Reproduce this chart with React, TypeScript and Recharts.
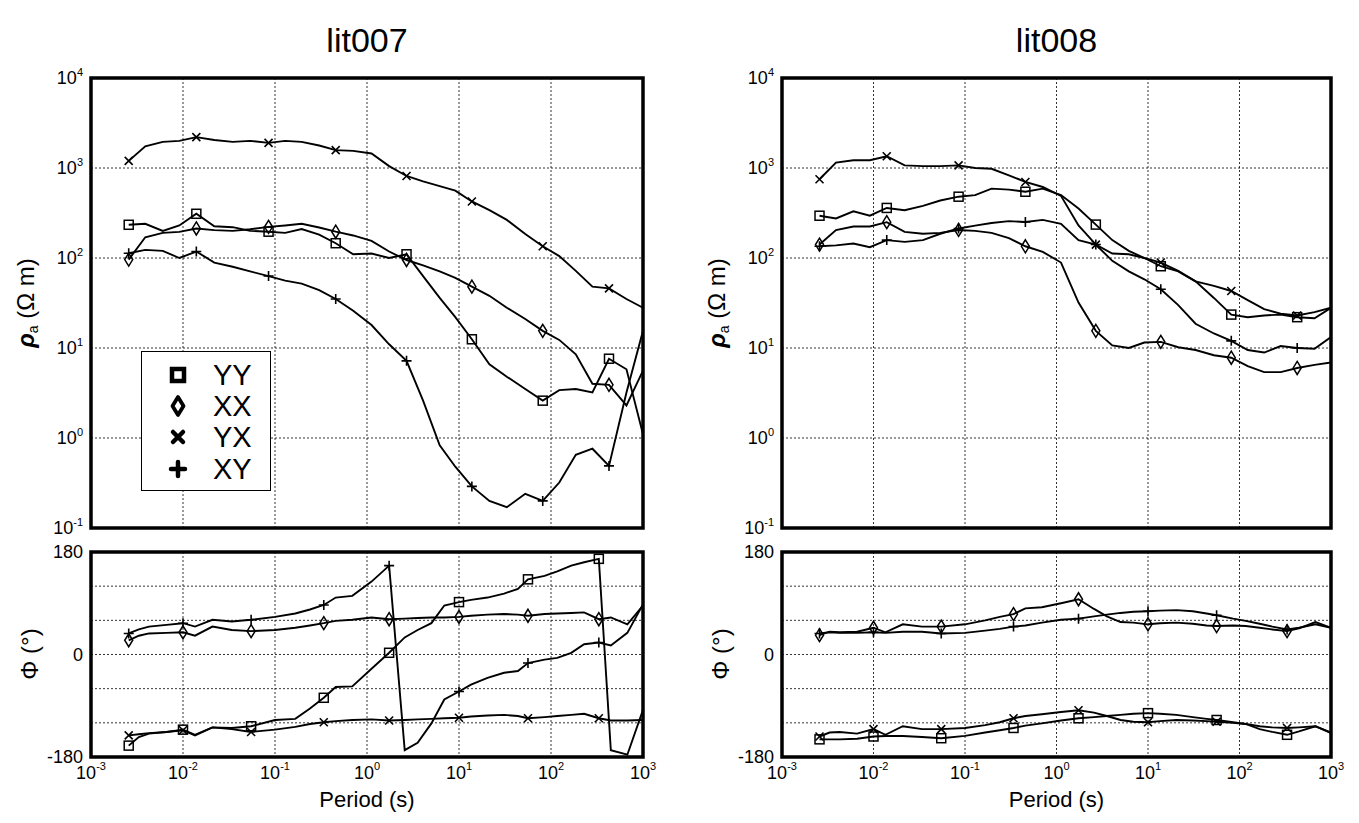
import React from "react";
import { LineChart, Line, XAxis, YAxis, CartesianGrid, ReferenceArea, Legend } from "recharts";

const FONT = '"Liberation Sans", Arial, Helvetica, sans-serif';

// periods (s) of the resistivity curves; markers every 4th point
const periodRho = [0.00257, 0.00389, 0.00603, 0.00912, 0.01396, 0.0219, 0.0347, 0.0537, 0.0851, 0.129, 0.195, 0.302, 0.457, 0.708, 1.12, 1.74, 2.69, 4.07, 6.17, 9.12, 13.8, 21.4, 33.1, 52.5, 81.3, 123, 186, 282, 427, 661, 1000];
const markRho = [0, 4, 8, 12, 16, 20, 24, 28];

// periods (s) of the phase curves
const periodPhase = [0.00257, 0.00331, 0.00427, 0.00661, 0.01, 0.0135, 0.0209, 0.0339, 0.055, 0.1, 0.166, 0.24, 0.339, 0.457, 0.692, 1.12, 1.74, 2.57, 3.55, 5.01, 6.92, 10, 13.5, 20.4, 30.9, 43.7, 56.2, 85.1, 117, 166, 229, 331, 447, 676, 1000];
const markPhase = [0, 4, 8, 12, 16, 21, 26, 31];

// lit007 apparent resistivity (ohm m)
const rhoYY7 = [234, 240, 200, 230, 310, 225, 220, 200, 196, 190, 210, 182, 146, 110, 112, 100, 110, 63, 36, 22, 12.5, 6.6, 4.8, 3.5, 2.6, 3.4, 3.5, 3.2, 7.6, 5.8, 1.1];
const rhoXX7 = [96, 170, 190, 195, 213, 204, 200, 209, 222, 230, 240, 218, 196, 178, 155, 118, 95, 83, 71, 60, 48, 38, 28, 21, 15.5, 12.3, 8.5, 4.0, 3.9, 2.3, 5.6];
const rhoYX7 = [1200, 1740, 1950, 2000, 2200, 2050, 1950, 2000, 1900, 2000, 1950, 1780, 1580, 1550, 1450, 1050, 815, 710, 630, 560, 425, 340, 265, 185, 135, 105, 72, 48, 46, 35, 28];
const rhoXY7 = [113, 123, 120, 100, 118, 89, 80, 71, 63, 56, 52, 44, 35, 26, 18, 11, 7.2, 2.6, 0.83, 0.48, 0.29, 0.2, 0.17, 0.24, 0.2, 0.32, 0.65, 0.76, 0.49, 3.2, 15.5];

// lit008 apparent resistivity (ohm m)
const rhoYY8 = [295, 275, 330, 295, 360, 340, 380, 435, 480, 500, 590, 575, 545, 590, 500, 355, 235, 158, 120, 100, 81, 71, 55, 36, 23.5, 22, 23, 23.5, 22, 21.4, 28];
const rhoXX8 = [141, 204, 224, 224, 250, 195, 186, 190, 205, 200, 190, 166, 135, 117, 89, 32, 15.5, 10.7, 10, 11.5, 11.7, 10.2, 9.5, 8.3, 7.8, 6.3, 5.4, 5.4, 6.0, 6.5, 6.9];
const rhoYX8 = [750, 1150, 1220, 1220, 1350, 1070, 1050, 1050, 1070, 1000, 980, 830, 700, 615, 490, 230, 141, 112, 110, 100, 89, 72, 55, 49, 43, 34, 27, 24, 23, 25, 28];
const rhoXY8 = [135, 138, 145, 132, 158, 151, 158, 186, 213, 229, 245, 257, 251, 265, 240, 158, 141, 93, 71, 58, 45, 30, 18.6, 14.5, 12, 9.5, 8.9, 10.5, 10, 9.8, 13.2];

// lit007 phase (deg)
const phYY7 = [-160, -145, -139, -136, -132, -141, -128, -129, -126, -115, -113, -95, -76, -57, -56, -25, 3, 30, 43, 55, 86, 92, 96, 100, 107, 115, 132, 138, 146, 156, 162, 168, -168, -176, -97];
const phXX7 = [25, 33, 37, 38, 39, 33, 49, 43, 41, 43, 47, 51, 55, 59, 61, 65, 62, 63, 64, 65, 65, 66, 68, 70, 71, 70, 68, 71, 72, 73, 74, 62, 65, 53, 86];
const phYX7 = [-142, -140, -138, -136, -133, -142, -128, -131, -136, -132, -127, -122, -119, -117, -115, -114, -116, -115, -114, -113, -112, -111, -109, -107, -106, -108, -112, -110, -108, -106, -104, -112, -116, -116, -115];
const phXY7 = [37, 44, 49, 52, 55, 49, 61, 58, 61, 66, 72, 79, 87, 100, 103, 128, 156, -168, -155, -121, -79, -65, -53, -41, -32, -29, -15, -9, -6, 3, 18, 21, 16, 38, 88];

// lit008 phase (deg)
const phYY8 = [-149, -149, -149, -148, -144, -143, -143, -145, -147, -143, -137, -133, -129, -125, -121, -116, -112, -110, -108, -106, -104, -103, -104, -106, -110, -113, -115, -119, -122, -131, -136, -141, -135, -126, -138];
const phXX8 = [34, 40, 39, 40, 47, 39, 53, 49, 49, 53, 60, 66, 71, 81, 83, 90, 97, 80, 67, 57, 56, 53, 55, 56, 54, 51, 50, 51, 50, 47, 44, 41, 46, 57, 47];
const phYX8 = [-144, -137, -136, -139, -131, -141, -126, -131, -131, -129, -124, -119, -112, -108, -105, -101, -98, -102, -108, -115, -118, -119, -117, -115, -116, -117, -118, -120, -122, -126, -128, -129, -128, -126, -137];
const phXY8 = [37, 39, 38, 38, 39, 38, 40, 40, 37, 38, 42, 45, 49, 51, 56, 61, 63, 67, 70, 73, 75, 76, 77, 78, 76, 72, 69, 63, 59, 54, 49, 44, 47, 53, 47];

const periodTicks = [0.001, 0.01, 0.1, 1, 10, 100, 1000];
const rhoTicks = [0.1, 1, 10, 100, 1000, 10000];
const phaseTicks = [-180, -120, -60, 0, 60, 120, 180];
const phaseLabels = [-180, 0, 180];

const SERIES = ["YY", "XX", "YX", "XY"];

const rows = (periods: number[], yy: number[], xx: number[], yx: number[], xy: number[]) =>
  periods.map((p, i) => ({ period: p, YY: yy[i], XX: xx[i], YX: yx[i], XY: xy[i] }));

const dataRho7 = rows(periodRho, rhoYY7, rhoXX7, rhoYX7, rhoXY7);
const dataRho8 = rows(periodRho, rhoYY8, rhoXX8, rhoYX8, rhoXY8);
const dataPh7 = rows(periodPhase, phYY7, phXX7, phYX7, phXY7);
const dataPh8 = rows(periodPhase, phYY8, phXX8, phYX8, phXY8);

const Marker = ({ kind, cx, cy }: { kind: string; cx: number; cy: number }) => {
  if (kind === "YY")
    return <rect x={cx - 4.5} y={cy - 4.5} width={9} height={9} fill="none" stroke="#000" strokeWidth={1.5} />;
  if (kind === "XX")
    return <path d={`M${cx},${cy - 6.5}L${cx + 4},${cy}L${cx},${cy + 6.5}L${cx - 4},${cy}Z`} fill="none" stroke="#000" strokeWidth={1.5} />;
  if (kind === "YX")
    return <path d={`M${cx - 4},${cy - 4}L${cx + 4},${cy + 4}M${cx - 4},${cy + 4}L${cx + 4},${cy - 4}`} stroke="#000" strokeWidth={1.6} />;
  return <path d={`M${cx - 5},${cy}L${cx + 5},${cy}M${cx},${cy - 5}L${cx},${cy + 5}`} stroke="#000" strokeWidth={1.6} />;
};

const makeDot = (kind: string, marks: number[]) => (p: any) => {
  if (!marks.includes(p.index) || p.cx == null) return <g key={`d-${kind}-${p.index}`} />;
  return <g key={`d-${kind}-${p.index}`}><Marker kind={kind} cx={p.cx} cy={p.cy} /></g>;
};

const exp10 = (v: number) => Math.round(Math.log10(v));

const LogTickY = (props: any) => {
  const { x, y, payload } = props;
  return (
    <text x={x} y={y} textAnchor="end" fontFamily={FONT} fontSize={18} fill="#000">
      <tspan dy="0.35em">10</tspan>
      <tspan dy="-0.8em" fontSize={11}>{exp10(payload.value)}</tspan>
    </text>
  );
};

const LogTickX = (props: any) => {
  const { x, y, payload } = props;
  return (
    <text x={x} y={y} textAnchor="middle" fontFamily={FONT} fontSize={18} fill="#000">
      <tspan dy="0.75em">10</tspan>
      <tspan dy="-0.8em" fontSize={11}>{exp10(payload.value)}</tspan>
    </text>
  );
};

const PhaseTick = (props: any) => {
  const { x, y, payload } = props;
  if (!phaseLabels.includes(payload.value)) return <g />;
  return (
    <text x={x} y={y} dy="0.35em" textAnchor="end" fontFamily={FONT} fontSize={18} fill="#000">
      {payload.value}
    </text>
  );
};

const legendGlyph = (kind: string) => {
  if (kind === "YY") return <rect x={-6} y={-6} width={12} height={12} fill="none" stroke="#000" strokeWidth={4.5} />;
  if (kind === "XX") return <path d="M0,-9L5.5,0L0,9L-5.5,0Z" fill="none" stroke="#000" strokeWidth={3.8} strokeLinejoin="round" />;
  if (kind === "YX") return <path d="M-5,-5L5,5M-5,5L5,-5" stroke="#000" strokeWidth={4.5} strokeLinecap="round" />;
  return <path d="M-7,0L7,0M0,-7L0,7" stroke="#000" strokeWidth={4.5} strokeLinecap="round" />;
};

const LegendBox = (props: any) => {
  const names = (props.payload || []).map((e: any) => String(e.value));
  const items = SERIES.filter((k) => names.includes(k));
  return (
    <div style={{ width: 130, height: 140, border: "1.5px solid #000", background: "#fff", boxSizing: "border-box", paddingTop: 7 }}>
      {items.map((k: string) => (
        <div key={k} style={{ display: "flex", alignItems: "center", height: 31.3 }}>
          <svg width={71} height={30} style={{ display: "block" }}>
            <g transform="translate(36,15)">{legendGlyph(k)}</g>
          </svg>
          <span style={{ fontFamily: FONT, fontSize: 29, lineHeight: "30px", color: "#000" }}>{k}</span>
        </div>
      ))}
    </div>
  );
};

const Frame = ({ x1, x2, y1, y2 }: { x1: number; x2: number; y1: number; y2: number }) => (
  <ReferenceArea x1={x1} x2={x2} y1={y1} y2={y2} fill="none" fillOpacity={0} stroke="#000" strokeWidth={3.5} ifOverflow="visible" />
);

const seriesLines = (marks: number[]) =>
  SERIES.map((k) => (
    <Line
      key={k}
      dataKey={k}
      name={k}
      type="linear"
      stroke="#000"
      strokeWidth={1.9}
      dot={makeDot(k, marks)}
      activeDot={false}
      isAnimationActive={false}
    />
  ));

const RhoChart = ({ data, plotWidth, legend }: { data: any[]; plotWidth: number; legend?: boolean }) => (
  <LineChart width={53 + plotWidth + 24} height={16 + 450 + 16} data={data} margin={{ top: 16, right: 24, bottom: 16, left: 0 }}>
    <CartesianGrid stroke="#000" strokeWidth={0.8} strokeDasharray="2 2" />
    <XAxis dataKey="period" type="number" scale="log" domain={[0.001, 1000]} ticks={periodTicks} hide allowDataOverflow />
    <YAxis
      type="number"
      scale="log"
      domain={[0.1, 10000]}
      ticks={rhoTicks}
      interval={0}
      width={53}
      tick={<LogTickY />}
      tickLine={false}
      axisLine={false}
      tickSize={0}
      tickMargin={8}
      allowDataOverflow
    />
    {seriesLines(markRho)}
    <Frame x1={0.001} x2={1000} y1={0.1} y2={10000} />
    {legend ? (
      <Legend
        layout="vertical"
        align="center"
        verticalAlign="middle"
        content={<LegendBox />}
        wrapperStyle={{ left: 103, top: 289, width: 130, height: 140 }}
      />
    ) : null}
  </LineChart>
);

const PhaseChart = ({ data, plotWidth }: { data: any[]; plotWidth: number }) => (
  <LineChart width={53 + plotWidth + 24} height={16 + 205 + 34 + 4} data={data} margin={{ top: 16, right: 24, bottom: 4, left: 0 }}>
    <CartesianGrid stroke="#000" strokeWidth={0.8} strokeDasharray="2 2" />
    <XAxis
      dataKey="period"
      type="number"
      scale="log"
      domain={[0.001, 1000]}
      ticks={periodTicks}
      interval={0}
      height={34}
      tick={<LogTickX />}
      tickLine={false}
      axisLine={false}
      tickSize={0}
      tickMargin={8}
      allowDataOverflow
    />
    <YAxis
      type="number"
      domain={[-180, 180]}
      ticks={phaseTicks}
      interval={0}
      width={53}
      tick={<PhaseTick />}
      tickLine={false}
      axisLine={false}
      tickSize={0}
      tickMargin={8}
      allowDataOverflow
    />
    {seriesLines(markPhase)}
    <Frame x1={0.001} x2={1000} y1={-180} y2={180} />
  </LineChart>
);

const abs = (left: number, top: number): React.CSSProperties => ({ position: "absolute", left, top });

const RotLabel = ({ cx, cy, children }: { cx: number; cy: number; children: React.ReactNode }) => (
  <div
    style={{
      position: "absolute",
      left: cx,
      top: cy,
      transform: "translate(-50%, -50%) rotate(-90deg)",
      whiteSpace: "nowrap",
      fontFamily: FONT,
      fontSize: 24,
      lineHeight: "28px",
      color: "#000",
    }}
  >
    {children}
  </div>
);

const RhoLabel = () => (
  <span>
    <span style={{ fontStyle: "italic", fontWeight: "bold" }}>ρ</span>
    <span style={{ fontSize: 14, verticalAlign: "-4px" }}>a</span> (Ω m)
  </span>
);

const CenterText = ({ left, width, top, size, text }: { left: number; width: number; top: number; size: number; text: string }) => (
  <div style={{ position: "absolute", left, width, top, textAlign: "center", fontFamily: FONT, fontSize: size, lineHeight: `${size}px`, color: "#000" }}>
    {text}
  </div>
);

export default function App() {
  // positions are relative to the container (page minus the 8px body margin)
  return (
    <div style={{ position: "relative", width: 1343, height: 807, background: "#fff" }}>
      <CenterText left={83} width={552} top={15} size={34} text="lit007" />
      <CenterText left={774} width={549} top={15} size={34} text="lit008" />

      <div style={abs(30, 54)}>
        <RhoChart data={dataRho7} plotWidth={552} legend />
      </div>
      <div style={abs(721, 54)}>
        <RhoChart data={dataRho8} plotWidth={549} />
      </div>
      <div style={abs(30, 528)}>
        <PhaseChart data={dataPh7} plotWidth={552} />
      </div>
      <div style={abs(721, 528)}>
        <PhaseChart data={dataPh8} plotWidth={549} />
      </div>

      <RotLabel cx={21} cy={295}>
        <RhoLabel />
      </RotLabel>
      <RotLabel cx={712} cy={295}>
        <RhoLabel />
      </RotLabel>
      <RotLabel cx={22} cy={646}>Φ (°)</RotLabel>
      <RotLabel cx={713} cy={646}>Φ (°)</RotLabel>

      <CenterText left={83} width={552} top={781} size={22} text="Period (s)" />
      <CenterText left={774} width={549} top={781} size={22} text="Period (s)" />
    </div>
  );
}
